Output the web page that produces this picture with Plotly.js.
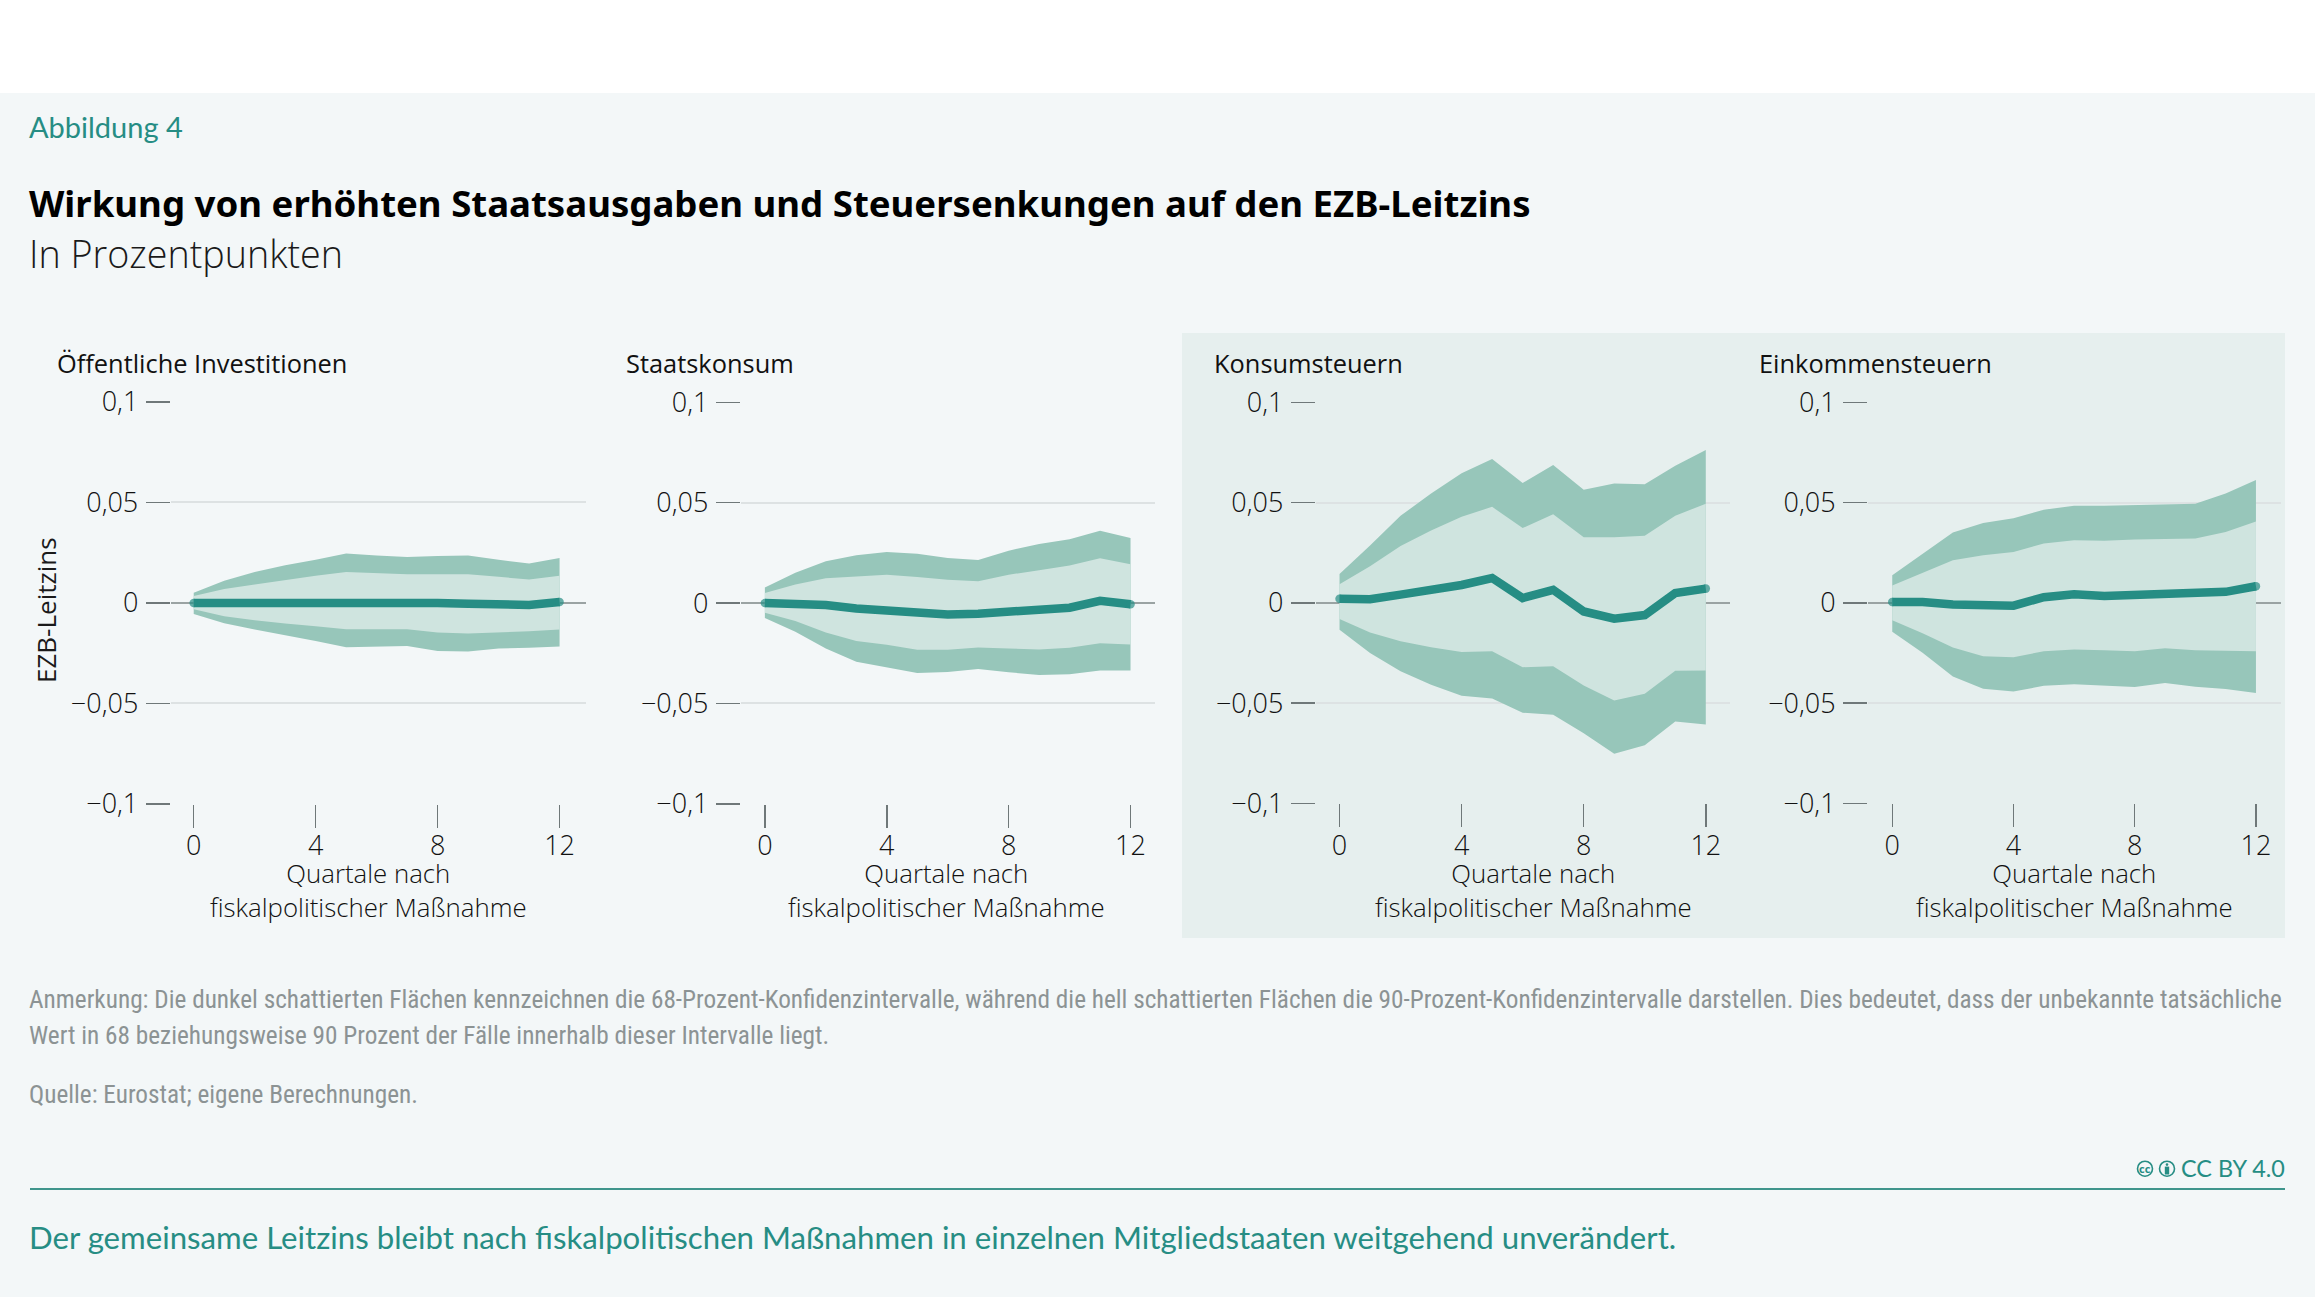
<!DOCTYPE html>
<html><head><meta charset="utf-8">
<script src="https://cdn.plot.ly/plotly-3.0.1.min.js"></script>
<style>html,body{margin:0;padding:0;background:#fff}#c{width:2315px;height:1297px}</style>
</head><body><div id="c"></div>
<script>
const quarters=[0,1,2,3,4,5,6,7,8,9,10,11,12];
const xTickVals=[0,4,8,12];
const yTickVals=[0.1,0.05,0,-0.05,-0.1];
const yTickText=["0,1","0,05","0","−0,05","−0,1"];
const panelTitles=["Öffentliche Investitionen","Staatskonsum","Konsumsteuern","Einkommensteuern"];

const invOuterUp=[.0051,.011,.0154,.0187,.0215,.0246,.0236,.0229,.0234,.0236,.0215,.0196,.0223];
const invInnerUp=[.0034,.0069,.0091,.0114,.0135,.0154,.0149,.0143,.0143,.0143,.013,.0116,.0135];
const invInnerLo=[-.0032,-.0067,-.0086,-.0103,-.0116,-.0131,-.0131,-.0131,-.0147,-.0152,-.0145,-.0141,-.0133];
const invOuterLo=[-.0055,-.0101,-.0133,-.0162,-.019,-.0221,-.0219,-.0215,-.024,-.0242,-.0227,-.0223,-.0217];
const invLine=[0,0,.0004,.0008,.0009,.001,.0008,.0006,0,-.0004,-.0006,-.001,.0004];

const konOuterUp=[.0078,.0151,.0208,.0238,.0254,.0246,.0225,.0214,.0261,.0294,.0318,.036,.0324];
const konInnerUp=[.005,.0093,.0124,.0133,.0141,.013,.0116,.0109,.0141,.0164,.0187,.0223,.0193];
const konInnerLo=[-.0048,-.009,-.0147,-.0189,-.0208,-.0233,-.0233,-.0221,-.0227,-.0231,-.0223,-.02,-.0206];
const konOuterLo=[-.0074,-.0143,-.0227,-.0292,-.032,-.0349,-.0343,-.0328,-.0345,-.0358,-.0355,-.0336,-.0336];
const konLine=[0,0,-.001,-.0027,-.0034,-.005,-.0057,-.0053,-.0044,-.0034,-.0023,.0011,-.0006];

const mwsOuterUp=[.0144,.0286,.0434,.0546,.0647,.0718,.0598,.0688,.0564,.0596,.0592,.0684,.0763];
const mwsInnerUp=[.0093,.0183,.0284,.0361,.043,.0479,.0373,.0442,.0327,.0327,.0335,.0434,.0495];
const mwsInnerLo=[-.0081,-.0148,-.0191,-.0221,-.0245,-.0241,-.0321,-.0316,-.0412,-.0487,-.0454,-.0339,-.0337];
const mwsOuterLo=[-.0134,-.025,-.0341,-.0408,-.0464,-.0477,-.0548,-.0558,-.0651,-.0753,-.071,-.0592,-.0607];
const mwsLine=[.002,.0018,.0041,.0065,.0089,.0124,.0024,.0065,-.0043,-.0079,-.0061,.0049,.0071];

const estOuterUp=[.0138,.0245,.0351,.0398,.0422,.0465,.0485,.0485,.0489,.0493,.0495,.0546,.0613];
const estInnerUp=[.0087,.0152,.0213,.0237,.0254,.0296,.0312,.031,.0316,.0318,.0321,.0353,.0406];
const estInnerLo=[-.0087,-.0152,-.0223,-.0266,-.0272,-.0241,-.0233,-.0237,-.0241,-.0227,-.0237,-.0239,-.0241];
const estOuterLo=[-.0144,-.0249,-.0367,-.0428,-.0442,-.0414,-.0406,-.0414,-.042,-.04,-.0418,-.043,-.045];
const estLine=[.0004,.0004,-.0008,-.0014,-.0014,.0028,.0043,.0034,.0037,.0043,.0043,.0055,.0083];

const W=2315,H=1297;
const px=v=>v/W, py=v=>1-v/H;
const DARK="#97c6ba",LIGHT="#cfe4df",TEAL="#268d84",BG="#f3f7f8",PANEL="#e6efee";
const SANS='"Open Sans", sans-serif', HEAD='"Noto Sans", sans-serif', NARROW='"Roboto Condensed", sans-serif';

const panels=[
 {d:[invOuterUp,invInnerUp,invInnerLo,invOuterLo,invLine],L:170.7,R:585.5,T:402,B:803.8,r:[-0.755,12.85],tx:55,cx:368.5},
 {d:[konOuterUp,konInnerUp,konInnerLo,konOuterLo,konLine],L:740.8,R:1154.9,T:402.3,B:803.8,r:[-0.79,12.80],tx:624,cx:946.5},
 {d:[mwsOuterUp,mwsInnerUp,mwsInnerLo,mwsOuterLo,mwsLine],L:1315.8,R:1729.9,T:402.4,B:803.3,r:[-0.777,12.79],tx:1212,cx:1533.5},
 {d:[estOuterUp,estInnerUp,estInnerLo,estOuterLo,estLine],L:1868,R:2280.5,T:402.4,B:803.3,r:[-0.80,12.81],tx:1757,cx:2074}
];

const data=[],layout={
 width:W,height:H,margin:{l:0,r:0,t:0,b:0,pad:0},paper_bgcolor:"#ffffff",plot_bgcolor:"rgba(0,0,0,0)",
 showlegend:false,hovermode:false,font:{family:SANS,size:25,color:"#1a1a1a"},
 shapes:[],annotations:[]
};
function rect(x0,y0,x1,y1,color){layout.shapes.push({type:"rect",xref:"paper",yref:"paper",x0:px(x0),x1:px(x1),y0:py(y1),y1:py(y0),fillcolor:color,line:{width:0},layer:"below"});}
function text(s,x,y,o){layout.annotations.push(Object.assign({text:s,xref:"paper",yref:"paper",x:px(x),y:py(y),showarrow:false,xanchor:"left",yanchor:"middle",align:"left",font:{family:SANS,size:25,color:"#1a1a1a"}},o||{}));}

rect(0,93,W,H,BG);
rect(1182,333,2285,938,PANEL);
rect(30,1188,2285,1190,"#3f958c");

panels.forEach((p,i)=>{
 const s=i===0?"":String(i+1), xa="x"+s, ya="y"+s;
 const back=quarters.slice().reverse();
 const band=(up,lo,c)=>data.push({type:"scatter",mode:"lines",x:quarters.concat(back),y:up.concat(lo.slice().reverse()),fill:"toself",fillcolor:c,line:{width:0},xaxis:xa,yaxis:ya,hoverinfo:"skip"});
 band(p.d[0],p.d[3],DARK);
 band(p.d[1],p.d[2],LIGHT);
 data.push({type:"scatter",mode:"lines+markers",x:quarters,y:p.d[4],line:{color:TEAL,width:8.5},
   marker:{color:TEAL,size:quarters.map(q=>(q===0||q===12)?8.5:0),line:{width:0}},xaxis:xa,yaxis:ya,hoverinfo:"skip"});
 layout["xaxis"+s]={domain:[px(p.L),px(p.R)],range:p.r,anchor:ya,tickmode:"array",tickvals:xTickVals,ticktext:xTickVals.map(String),
   ticks:"outside",ticklen:23,tickwidth:1.5,tickcolor:"#6f7879",showgrid:false,zeroline:false,showline:false,ticklabelstandoff:-5,
   tickfont:{family:SANS,size:27,weight:300,color:"#111"},fixedrange:true};
 layout["yaxis"+s]={domain:[py(p.B),py(p.T)],range:[-0.1,0.1],anchor:xa,tickmode:"array",tickvals:yTickVals,ticktext:yTickText,
   ticks:"outside",ticklen:24,tickwidth:1.5,tickcolor:"#6f7879",showgrid:true,gridcolor:"#dde2e3",gridwidth:2,ticklabelstandoff:2,
   zeroline:true,zerolinecolor:"#9aa3a3",zerolinewidth:2,showline:false,
   tickfont:{family:SANS,size:27,weight:300,color:"#111"},fixedrange:true};
 text(panelTitles[i],p.tx,363.5,{font:{family:SANS,size:25.4,color:"#111"}});
 text("Quartale nach<br>fiskalpolitischer Maßnahme",p.cx,889.5,{xanchor:"center",align:"center",font:{family:SANS,size:25.8,weight:300,color:"#111"}});
});

text("EZB-Leitzins",46,610,{xanchor:"center",textangle:-90,font:{family:SANS,size:26,color:"#1a1a1a"}});
text("Abbildung 4",27,127,{font:{family:'Lato, sans-serif',size:29,color:TEAL}});
text("Wirkung von erhöhten Staatsausgaben und Steuersenkungen auf den EZB-Leitzins",27,203,{font:{family:HEAD,size:36.6,weight:700,color:"#000"}});
text("In Prozentpunkten",27,254,{font:{family:SANS,size:37.7,weight:300,color:"#1a1a1a"}});
const noteColor="#8c9394";
text("Anmerkung: Die dunkel schattierten Flächen kennzeichnen die 68-Prozent-Konfidenzintervalle, während die hell schattierten Flächen die 90-Prozent-Konfidenzintervalle darstellen. Dies bedeutet, dass der unbekannte tatsächliche",27,999.5,{font:{family:NARROW,size:25.25,color:noteColor}});
text("Wert in 68 beziehungsweise 90 Prozent der Fälle innerhalb dieser Intervalle liegt.",27,1035,{font:{family:NARROW,size:25.25,color:noteColor}});
text("Quelle: Eurostat; eigene Berechnungen.",27,1094,{font:{family:NARROW,size:25.25,color:noteColor}});
text("CC BY 4.0",2286.5,1168,{xanchor:"right",font:{family:'Lato, sans-serif',size:23.4,color:TEAL}});
text("Der gemeinsame Leitzins bleibt nach fiskalpolitischen Maßnahmen in einzelnen Mitgliedstaaten weitgehend unverändert.",27,1237,{font:{family:'Lato, sans-serif',size:31.2,color:TEAL}});
// licence icons
const ring=(cx,cy,r,fill,lw)=>layout.shapes.push({type:"circle",xref:"paper",yref:"paper",x0:px(cx-r),x1:px(cx+r),y0:py(cy+r),y1:py(cy-r),fillcolor:fill,line:{color:TEAL,width:lw}});
ring(2145,1168.7,7.5,"rgba(0,0,0,0)",1.6);
ring(2167,1168.7,7.5,"rgba(0,0,0,0)",1.6);
ring(2167,1164.6,1.3,TEAL,0);
layout.shapes.push({type:"rect",xref:"paper",yref:"paper",x0:px(2164.8),x1:px(2169.2),y0:py(1174.5),y1:py(1166.6),fillcolor:TEAL,line:{width:0}});
text("cc",2145,1168.2,{xanchor:"center",font:{family:SANS,size:11,weight:700,color:TEAL}});

Plotly.newPlot("c",data,layout,{displayModeBar:false,staticPlot:true});
</script></body></html>
